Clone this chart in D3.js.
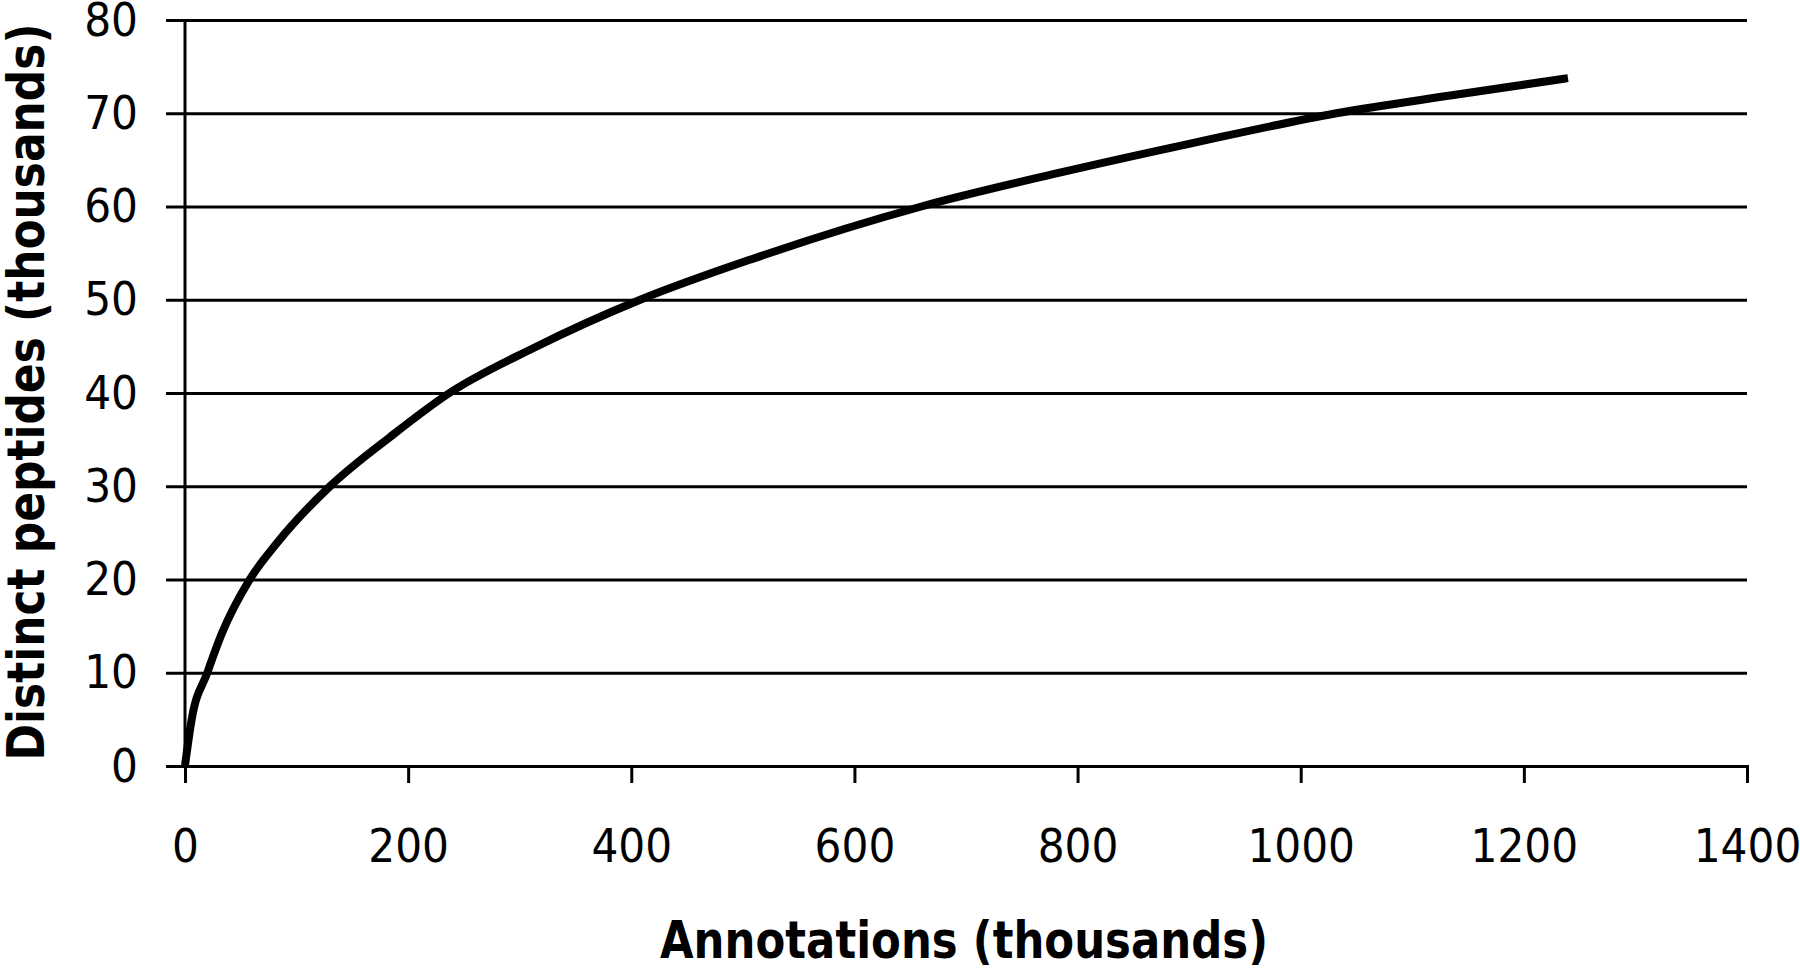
<!DOCTYPE html>
<head>
    <meta charset="utf-8">
    <script src="https://d3js.org/d3.v7.min.js"></script>
    <style>
        body { margin:0; background:#fff; }
        .tick text { font-family:"Liberation Sans Narrow", "DejaVu Sans Condensed", "Liberation Sans", sans-serif; font-size:47px; fill:#000; }
        .title { font-family:"DejaVu Sans", sans-serif; font-weight:bold; font-size:52px; fill:#000; }
    </style>
</head>

<body>
<div id="chart"></div>
<script>

    // ******************** Data ************************
    // annotations (thousands) vs distinct peptides (thousands)
    var annotations = [0.5, 6, 20, 33, 58, 83, 130, 184, 237, 312, 408, 509, 660, 783, 903, 1032, 1134, 1236];
    var peptides    = [0.5, 5, 10, 14.2, 20, 24.0, 30, 35.3, 40, 44.8, 50, 54.4, 60, 63.6, 66.8, 70, 71.9, 73.7];

    var xTicks = [0, 200, 400, 600, 800, 1000, 1200, 1400];
    var yTicks = [0, 10, 20, 30, 40, 50, 60, 70, 80];

    var xTitle = "Annotations (thousands)";
    var yTitle = "Distinct peptides (thousands)";

    // ******************** Layout ************************
    var W = 1800, H = 968;
    var x = d3.scaleLinear().domain([0, 1400]).range([185, 1747]);
    var y = d3.scaleLinear().domain([0, 80]).range([766, 20]);

    var svg = d3.select("#chart").append("svg")
        .attr("width", W)
        .attr("height", H);

    svg.append("rect").attr("width", W).attr("height", H).attr("fill", "#fff");

    // horizontal gridlines + y labels
    var gy = svg.append("g")
        .attr("transform", "translate(" + x(0) + ",0)")
        .call(d3.axisLeft(y).tickValues(yTicks).tickSize(-(x(1400) - x(0))).tickPadding(47));
    gy.select(".domain").remove();
    gy.selectAll(".tick line")
        .attr("x1", -19)
        .attr("stroke", "#000")
        .attr("stroke-width", 3);

    // x axis with ticks hanging below
    var gx = svg.append("g")
        .attr("transform", "translate(0," + y(0) + ")")
        .call(d3.axisBottom(x).tickValues(xTicks).tickFormat(d3.format("d"))
            .tickSize(17).tickSizeOuter(17).tickPadding(46));
    gx.select(".domain").attr("stroke", "#000").attr("stroke-width", 3);
    gx.selectAll(".tick line").attr("stroke", "#000").attr("stroke-width", 3);

    // y axis line
    svg.append("line")
        .attr("x1", x(0)).attr("x2", x(0))
        .attr("y1", y(80)).attr("y2", y(0))
        .attr("stroke", "#000")
        .attr("stroke-width", 3);

    // the curve
    var pts = annotations.map(function (d, i) { return [d, peptides[i]]; });
    var line = d3.line()
        .x(function (d) { return x(d[0]); })
        .y(function (d) { return y(d[1]); })
        .curve(d3.curveMonotoneX);

    svg.append("path")
        .datum(pts)
        .attr("d", line)
        .attr("fill", "none")
        .attr("stroke", "#000")
        .attr("stroke-width", 8)
        .attr("stroke-linecap", "square");

    // axis titles
    svg.append("text")
        .attr("class", "title")
        .attr("x", 964)
        .attr("y", 958)
        .attr("text-anchor", "middle")
        .attr("textLength", 608)
        .attr("lengthAdjust", "spacingAndGlyphs")
        .text(xTitle);

    svg.append("text")
        .attr("class", "title")
        .attr("transform", "translate(44,392) rotate(-90)")
        .attr("text-anchor", "middle")
        .attr("textLength", 737)
        .attr("lengthAdjust", "spacingAndGlyphs")
        .text(yTitle);

</script>
</body>
